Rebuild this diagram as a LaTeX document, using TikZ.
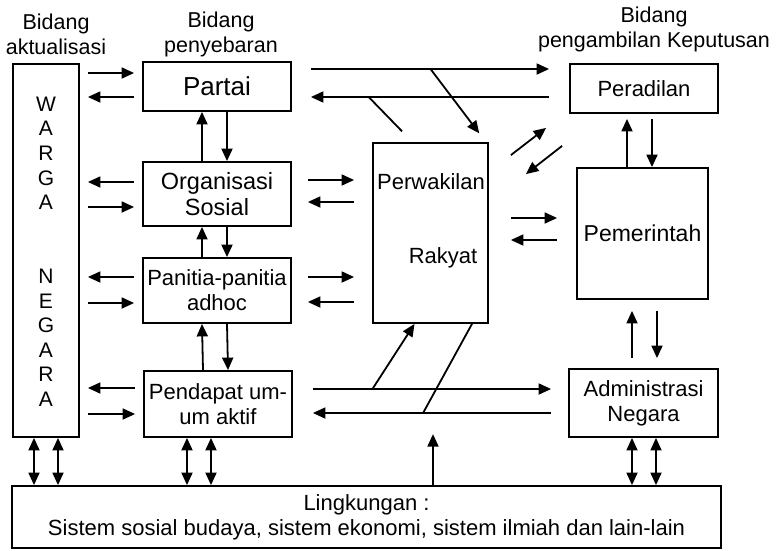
\documentclass[tikz,border=0pt]{standalone}
\usepackage{fontspec}
\setmainfont{Liberation Sans}
\usetikzlibrary{arrows.meta,calc}

\begin{document}
\begin{tikzpicture}[x=1pt,y=-1pt,line width=1.8pt,>={Triangle[length=12.5pt,width=11pt]}]
  \tikzstyle{every node}=[inner sep=0pt,font=\fontsize{22}{25}\selectfont,align=center];
  \tikzstyle{kotak}=[draw,rectangle];
  \tikzstyle{label}=[font=\fontsize{21.5}{24.5}\selectfont];
  \useasboundingbox (0,0) rectangle (780,550);
  \node[label] (bidang1) at (56,34.5) {Bidang\\aktualisasi};
  \node[label] (bidang2) at (221,34.5) {Bidang\\penyebaran};
  \node[label] (bidang3) at (654,29.5) {Bidang\\pengambilan Keputusan};
  \node[kotak,minimum width=66pt,minimum height=373pt] (warga) at (46,250.5) {};
  \foreach \huruf/\k in {W/0,A/1,R/2,G/3,A/4,N/7,E/8,G/9,A/10,R/11,A/12}{
    \node[font=\fontsize{21}{24}\selectfont] (huruf\k) at (46,104+24.6*\k) {\huruf};
  }
  \node[kotak,minimum width=148pt,minimum height=49pt,font=\fontsize{26}{30}\selectfont] (partai) at (217,86.5) {Partai};
  \node[kotak,minimum width=148pt,minimum height=64pt,font=\fontsize{23.5}{26}\selectfont] (org) at (217,194) {Organisasi\\Sosial};
  \node[kotak,minimum width=148pt,minimum height=65pt] (panitia) at (217,290.5) {Panitia-panitia\\adhoc};
  \node[kotak,minimum width=148pt,minimum height=66pt] (pendapat) at (218,404) {Pendapat um-\\um aktif};
  \node[kotak,minimum width=115pt,minimum height=180pt] (perwakilan) at (430.5,233) {};
  \node (perwakilan1) at (431,182) {Perwakilan};
  \node (perwakilan2) at (443,258) {Rakyat};
  \node[kotak,minimum width=148pt,minimum height=49pt] (peradilan) at (644,88.5) {Peradilan};
  \node[kotak,minimum width=131pt,minimum height=131pt,font=\fontsize{23}{26}\selectfont] (pemerintah) at (642.5,233.5) {Pemerintah};
  \node[kotak,minimum width=149pt,minimum height=68pt] (admin) at (643.5,403) {Administrasi\\Negara};
  \node[kotak,minimum width=709pt,minimum height=62pt] (lingkungan) at (366.5,517) {Lingkungan :\\Sistem sosial budaya, sistem ekonomi, sistem ilmiah dan lain-lain};

  \foreach \n/\atas/\bawah/\ka/\kb in {partai/-13.5/10.5/->/<-,org/-12/13/<-/->,panitia/-13.5/12.5/<-/->,pendapat/-16/10/<-/->}{
    \draw[\ka,shorten <=8pt,shorten >=8pt] ($(\n.west -| warga.east)+(0,\atas)$) -- ($(\n.west)+(0,\atas)$);
    \draw[\kb,shorten <=8pt,shorten >=8pt] ($(\n.west -| warga.east)+(0,\bawah)$) -- ($(\n.west)+(0,\bawah)$);
  }
  \foreach \a/\b in {partai/org,org/panitia,panitia/pendapat}{
    \draw[->] ($(\b.north)+(-15,0)$) -- ($(\a.south)+(-15,0)$);
    \draw[->] ($(\a.south)+(10,0)$) -- ($(\b.north)+(10,0)$);
  }
  \foreach \n/\atas/\bawah in {org/-14/8,panitia/-13.5/11.5}{
    \draw[->,shorten <=16pt,shorten >=18pt] ($(\n.east)+(0,\atas)$) -- ($(\n.east -| perwakilan.west)+(0,\atas)$);
    \draw[<-,shorten <=16pt,shorten >=18pt] ($(\n.east)+(0,\bawah)$) -- ($(\n.east -| perwakilan.west)+(0,\bawah)$);
  }

  \draw[->,shorten <=19pt,shorten >=20pt] ($(partai.east)+(0,-17.5)$) -- coordinate[pos=.5] (cabang1) ($(partai.east -| peradilan.west)+(0,-17.5)$);
  \draw[<-,shorten <=19pt,shorten >=20pt] ($(partai.east)+(0,10.5)$) -- coordinate[pos=.277] (cabang2) ($(partai.east -| peradilan.west)+(0,10.5)$);
  \draw[->,shorten >=11pt] (cabang1) -- ($(perwakilan.north east)+(-3,0)$);
  \draw[shorten <=15pt] ($(perwakilan.north)+(-18,0)$) -- (cabang2);

  \draw[->] ($(perwakilan.north east)+(22,13)$) -- ($(peradilan.south west)+(-23,14)$);
  \draw[->] ($(peradilan.south west)+(-7,32)$) -- ($(perwakilan.north east)+(37,32)$);
  \draw[->,shorten <=22pt,shorten >=19pt] ($(perwakilan.east)+(0,-15)$) -- ($(perwakilan.east -| pemerintah.west)+(0,-15)$);
  \draw[<-,shorten <=22pt,shorten >=19pt] ($(perwakilan.east)+(0,7)$) -- ($(perwakilan.east -| pemerintah.west)+(0,7)$);

  \draw[->,shorten >=5pt] ($(pemerintah.north)+(-15.5,0)$) -- ($(pemerintah.north |- peradilan.south)+(-15.5,0)$);
  \draw[->,shorten <=5pt] ($(pemerintah.north |- peradilan.south)+(9.5,0)$) -- ($(pemerintah.north)+(9.5,0)$);
  \draw[->,shorten <=10pt,shorten >=11pt] ($(admin.north)+(-11.5,0)$) -- ($(admin.north |- pemerintah.south)+(-11.5,0)$);
  \draw[->,shorten <=11pt,shorten >=10pt] ($(admin.north |- pemerintah.south)+(13.5,0)$) -- ($(admin.north)+(13.5,0)$);

  \draw[->,shorten <=20pt,shorten >=17pt] ($(pendapat.east)+(0,-15)$) -- coordinate[pos=.289] (cabang3) ($(pendapat.east -| admin.west)+(0,-15)$);
  \draw[<-,shorten <=20pt,shorten >=17pt] ($(pendapat.east)+(0,9)$) -- coordinate[pos=.473] (cabang4) ($(pendapat.east -| admin.west)+(0,9)$);
  \draw[->] (cabang3) -- ($(perwakilan.south)+(-16,0)$);
  \draw (cabang4) -- ($(perwakilan.south)+(41.5,0)$);

  \foreach \n/\dx in {warga/-12,warga/12,pendapat/-31,pendapat/-7,admin/-11.5,admin/12.5}
    \draw[<->] ($(\n.south)+(\dx,0)$) -- ($(\n.south |- lingkungan.north)+(\dx,0)$);
  \draw[->] ($(lingkungan.north)+(66.5,0)$) -- ++(0,-51);
\end{tikzpicture}
\end{document}
